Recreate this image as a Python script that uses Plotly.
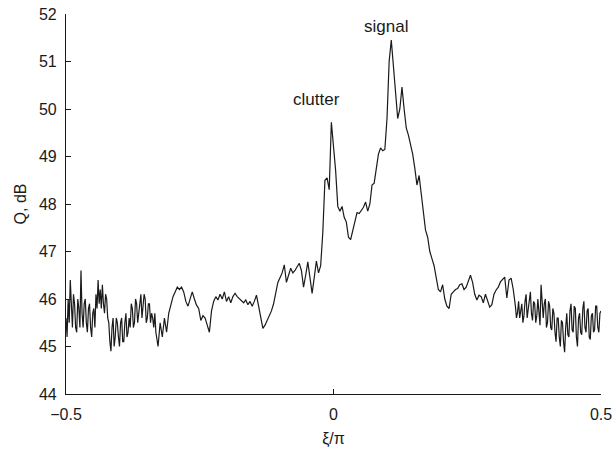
import numpy as np
import plotly.graph_objects as go

# Normalised frequency xi/pi: finer sampling at both noisy ends
xi_left = np.linspace(-0.500, -0.332, 85)    # step 0.002
xi_mid = np.linspace(-0.328, 0.336, 167)     # step 0.004
xi_right = np.linspace(0.340, 0.500, 81)     # step 0.002

q_left = [
    45.6, 45.2, 46.0, 45.5, 46.4, 45.7, 45.4, 46.1, 45.9, 45.4,
    45.3, 46.0, 45.8, 45.4, 46.6, 45.7, 45.4, 45.9, 46.0, 45.5,
    45.3, 45.8, 45.9, 45.4, 45.2, 45.7, 45.8, 45.4, 46.1, 45.8,
    46.4, 45.9, 46.2, 45.8, 46.3, 45.9, 45.7, 46.1, 46.0, 45.6,
    45.5, 45.1, 44.9, 45.4, 45.6, 45.0, 45.2, 45.6, 45.5, 45.2,
    45.0, 45.5, 45.6, 45.1, 45.1, 45.5, 45.7, 45.2, 45.3, 45.6,
    45.4, 45.9, 45.8, 45.4, 45.5, 46.0, 45.9, 45.5, 45.7, 45.9,
    46.1, 45.6, 45.8, 46.1, 46.0, 45.5, 45.6, 45.9, 45.9, 45.5,
    45.7, 45.6, 45.4, 45.7, 45.3,
]

q_mid = [
    45.0, 45.5, 45.2, 45.6, 45.3, 45.7, 45.9,
    46.05, 46.15, 46.25, 46.2, 46.25, 46.15, 45.95, 45.85, 46.0, 46.15,
    46.0, 45.87, 45.8, 45.55, 45.65, 45.6, 45.45, 45.3, 45.75, 45.95,
    46.05, 45.98, 46.1, 46.0, 46.15, 45.95, 46.05, 45.92, 46.05, 46.12,
    46.05, 46.0, 45.95, 45.92, 45.98, 45.88, 45.95, 45.85, 45.95, 46.08,
    45.85, 45.6, 45.38, 45.45, 45.55, 45.65, 45.75, 45.9, 46.1, 46.35,
    46.45, 46.55, 46.72, 46.35, 46.5, 46.65, 46.55, 46.6, 46.68, 46.75,
    46.6, 46.25, 46.5, 46.78, 46.45, 46.12, 46.45, 46.8, 46.55, 46.7,
    47.4, 48.5, 48.55, 48.3, 49.72, 49.2, 48.7, 47.95, 47.85, 47.95,
    47.72, 47.62, 47.3, 47.25, 47.45, 47.6, 47.82, 47.8, 47.87, 47.93,
    48.04, 47.85, 48.0, 48.4, 48.44, 48.8, 49.05, 49.18, 49.12, 49.15,
    49.8, 51.0, 51.45, 50.9, 50.4, 49.8, 50.0, 50.46, 50.0, 49.6,
    49.45, 49.25, 49.05, 48.75, 48.4, 48.6, 48.2, 47.85, 47.45, 47.3,
    47.0, 46.85, 46.7, 46.45, 46.2, 46.15, 46.3, 46.0, 45.85, 45.8,
    46.1, 46.15, 46.2, 46.22, 46.3, 46.32, 46.2, 46.25, 46.38, 46.5,
    46.35, 46.1, 45.98, 46.08, 46.05, 45.92, 46.1, 45.95, 45.83, 45.88,
    46.1, 46.19, 46.25, 46.36, 46.42, 46.46, 46.02, 46.4, 46.44, 46.2,
]

q_right = [
    45.85, 45.6, 45.72, 45.95, 45.6, 45.75, 45.9, 45.5, 45.65, 45.95,
    46.1, 45.6, 45.75, 45.95, 46.15, 45.7, 45.55, 45.95, 45.9, 45.5,
    45.65, 46.0, 45.7, 45.45, 46.3, 45.8, 45.6, 45.9, 46.0, 45.4,
    45.5, 45.95, 45.85, 45.4, 45.35, 45.8, 45.7, 45.3, 45.1, 45.6,
    45.6, 45.2, 45.0, 45.55, 45.5, 45.1, 44.88, 45.4, 45.7, 45.25,
    45.2, 45.75, 45.9, 45.35, 45.3, 45.85, 45.8, 45.2, 45.0, 45.6,
    45.7, 45.3, 45.25, 45.8, 45.95, 45.4, 45.3, 45.75, 45.8, 45.2,
    45.15, 45.65, 45.7, 45.3, 45.35, 45.85, 45.85, 45.4, 45.3, 45.7,
    45.75,
]

xi = np.concatenate([xi_left, xi_mid, xi_right])
q_db = q_left + q_mid + q_right

x_ticks = [-0.5, 0, 0.5]
x_tick_labels = ["\u22120.5", "0", "0.5"]
y_ticks = [44, 45, 46, 47, 48, 49, 50, 51, 52]

font_family = "Liberation Sans, Arial, sans-serif"
ink = "#1a1a1a"

fig = go.Figure()
fig.add_trace(go.Scatter(
    x=xi, y=q_db, mode="lines",
    line=dict(color=ink, width=1.2),
    showlegend=False, hoverinfo="skip",
))

fig.add_annotation(x=-0.031, y=50.19, text="clutter", showarrow=False,
                   font=dict(size=17, color=ink, family=font_family))
fig.add_annotation(x=0.098, y=51.73, text="signal", showarrow=False,
                   font=dict(size=17, color=ink, family=font_family))

fig.update_layout(
    width=615, height=450,
    margin=dict(l=66, r=14, t=14, b=56),
    paper_bgcolor="white", plot_bgcolor="white",
    font=dict(family=font_family, size=16, color=ink),
    xaxis=dict(
        range=[-0.5, 0.5], tickvals=x_ticks, ticktext=x_tick_labels,
        ticks="inside", ticklen=5, tickcolor=ink, ticklabelstandoff=6,
        showline=True, linecolor=ink, linewidth=1.2,
        showgrid=False, zeroline=False, automargin=False,
        title=dict(text="\u03be/\u03c0", standoff=10, font=dict(size=16)),
    ),
    yaxis=dict(
        range=[44, 52], tickvals=y_ticks,
        ticks="inside", ticklen=5, tickcolor=ink, ticklabelstandoff=5,
        showline=True, linecolor=ink, linewidth=1.2,
        showgrid=False, zeroline=False, automargin=False,
        title=dict(text="Q, dB", standoff=8, font=dict(size=16)),
    ),
)

fig.write_html("out.html")
